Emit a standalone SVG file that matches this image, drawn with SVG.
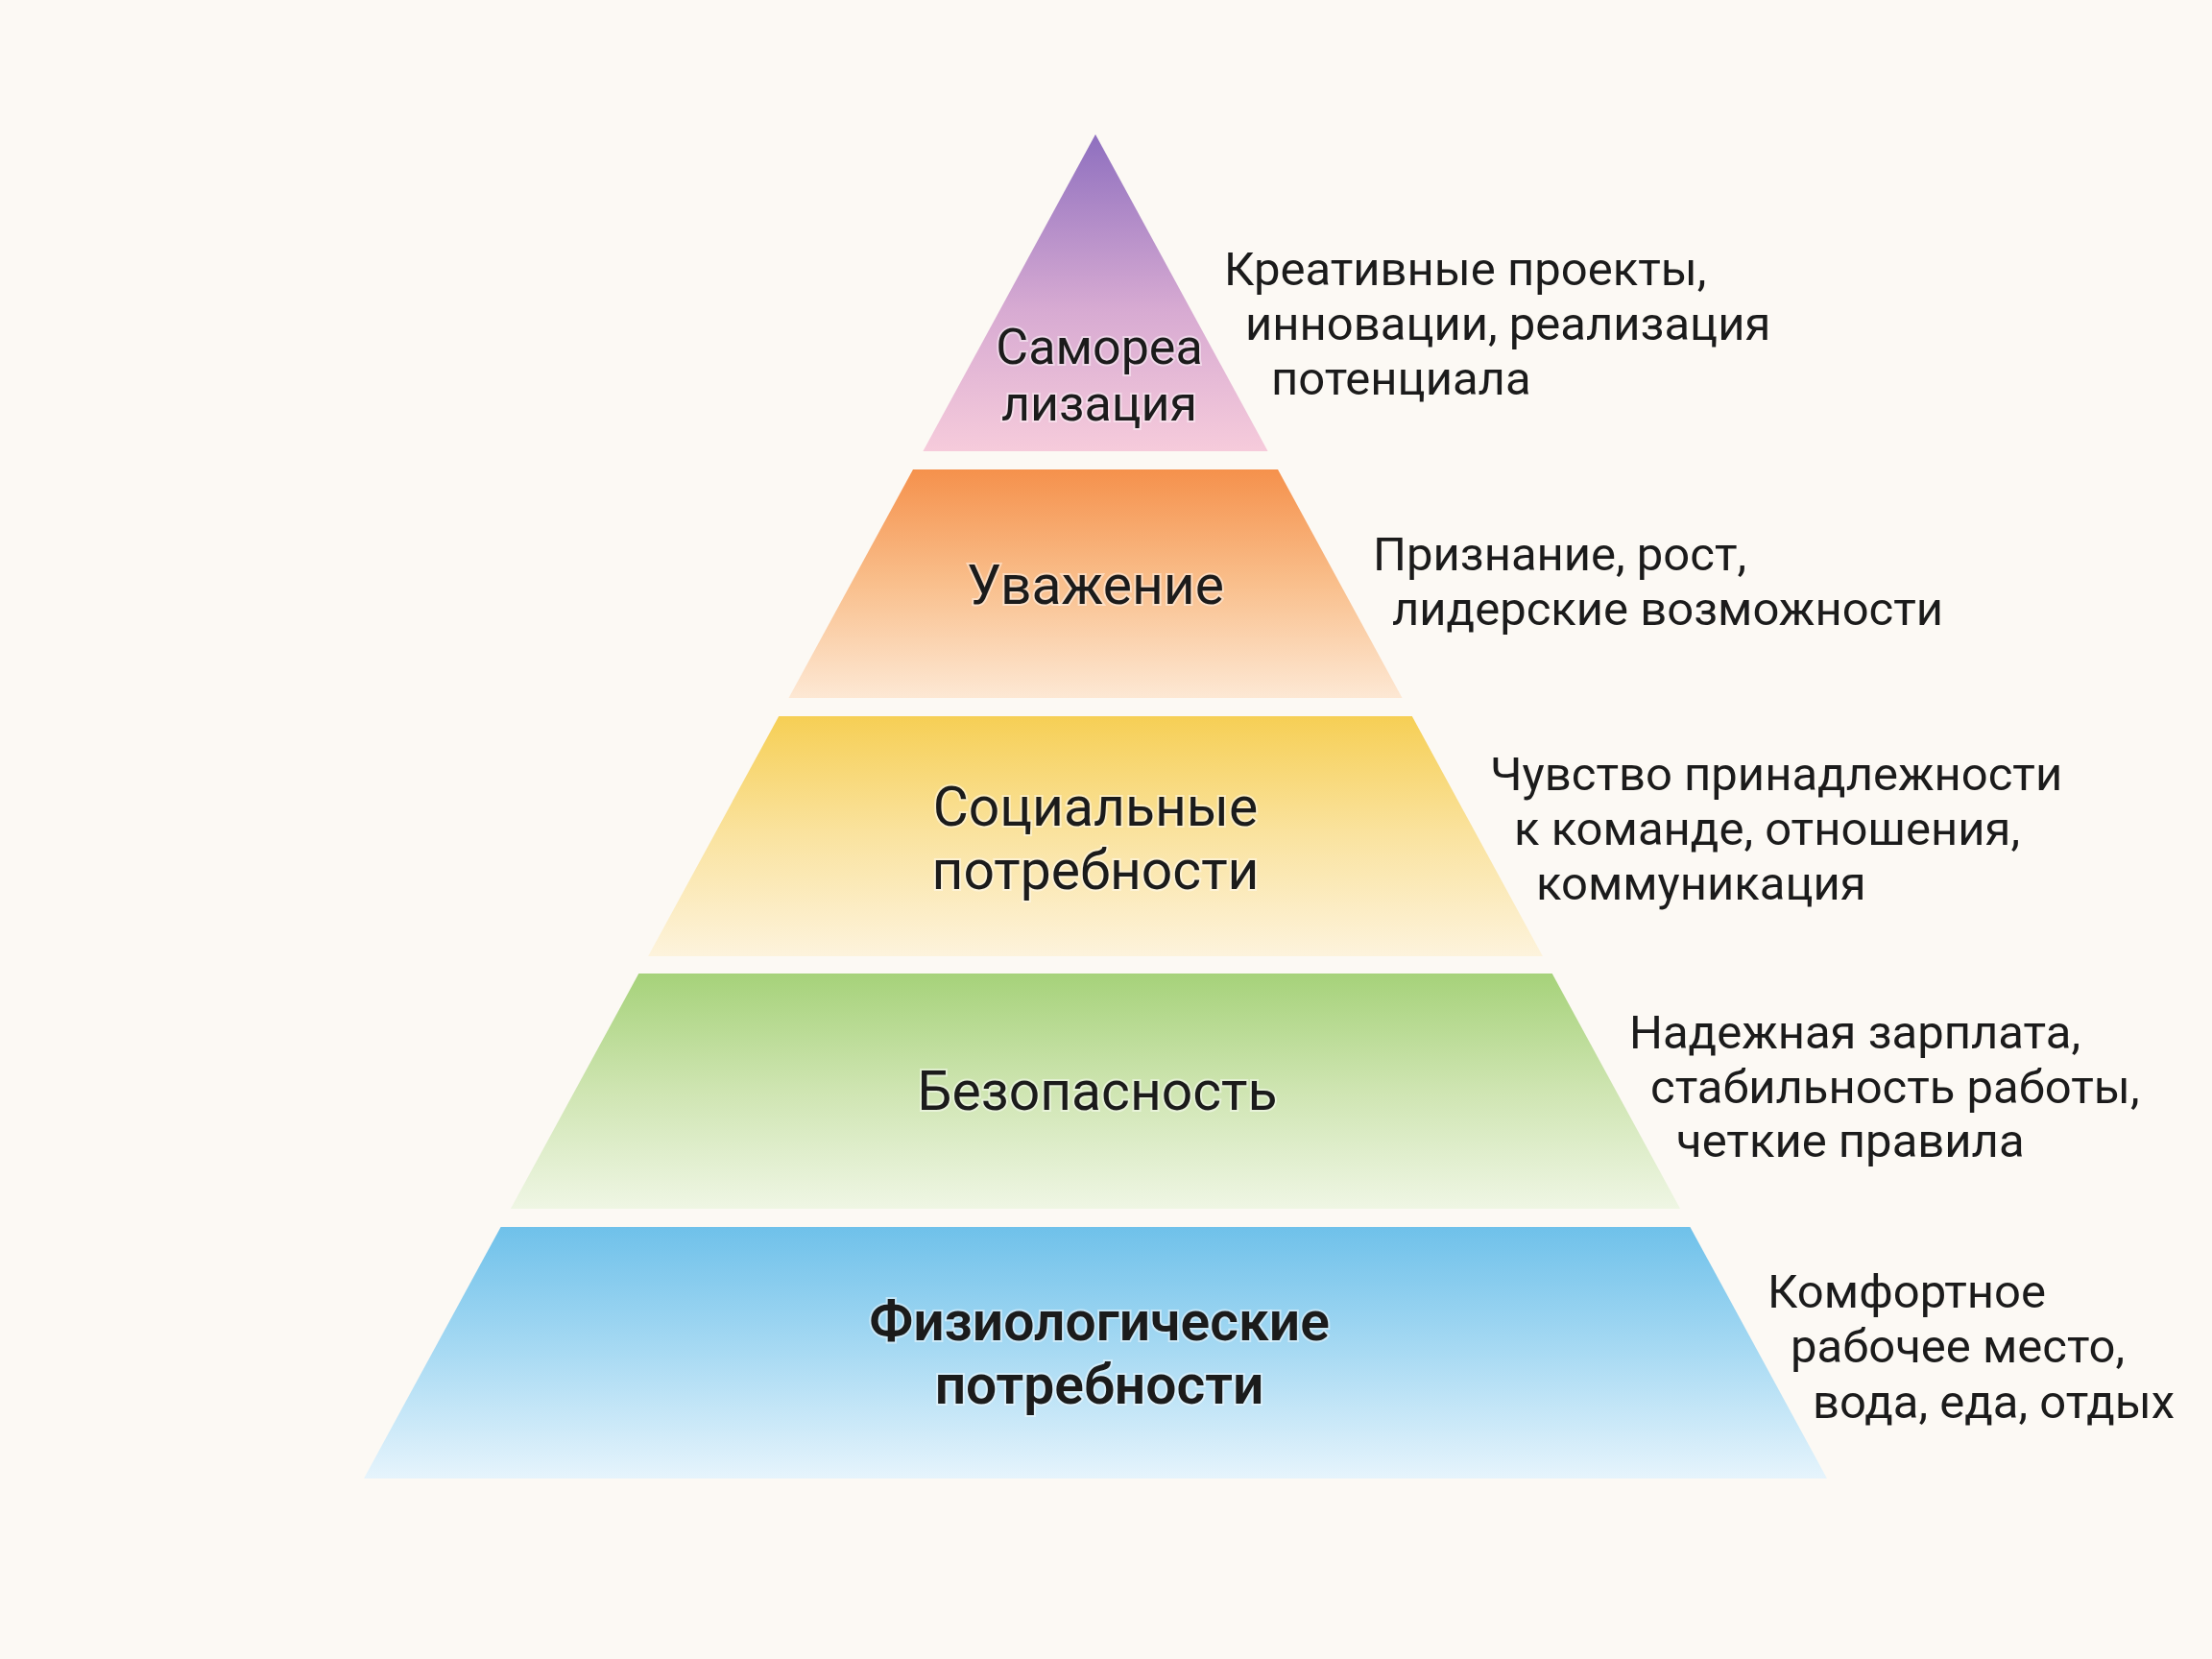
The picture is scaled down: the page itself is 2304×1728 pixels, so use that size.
<svg xmlns="http://www.w3.org/2000/svg" width="2304" height="1728" viewBox="0 0 2304 1728">
<defs>
<linearGradient id="g1" x1="0" y1="0" x2="0" y2="1"><stop offset="0" stop-color="#8e6fbf"/><stop offset="0.55" stop-color="#d7aad2"/><stop offset="1" stop-color="#f6cbdb"/></linearGradient>
<linearGradient id="g2" x1="0" y1="0" x2="0" y2="1"><stop offset="0" stop-color="#f5914c"/><stop offset="0.5" stop-color="#f9bf8c"/><stop offset="1" stop-color="#fde8d4"/></linearGradient>
<linearGradient id="g3" x1="0" y1="0" x2="0" y2="1"><stop offset="0" stop-color="#f6cf55"/><stop offset="0.5" stop-color="#fae3a0"/><stop offset="1" stop-color="#fdf3dc"/></linearGradient>
<linearGradient id="g4" x1="0" y1="0" x2="0" y2="1"><stop offset="0" stop-color="#a6d27a"/><stop offset="0.5" stop-color="#cfe5b2"/><stop offset="1" stop-color="#eff6e4"/></linearGradient>
<linearGradient id="g5" x1="0" y1="0" x2="0" y2="1"><stop offset="0" stop-color="#6fc1ea"/><stop offset="0.5" stop-color="#a8daf3"/><stop offset="1" stop-color="#e6f4fc"/></linearGradient>
</defs>
<style>
.lbl{font-family:Roboto,"Liberation Sans",sans-serif;font-size:57px;fill:#1b1b1b;text-anchor:middle;stroke:#ffffff;stroke-opacity:0.45;stroke-width:4px;paint-order:stroke}
.desc{font-family:Roboto,"Liberation Sans",sans-serif;font-size:49px;fill:#1b1b1b}
</style>
<rect width="2304" height="1728" fill="#fcf9f4"/>
<g id="tier1">
<polygon points="1141,140 1320.6,470 961.4,470" fill="url(#g1)"/>
<text class="lbl" x="1145" y="379" style="font-size:52px">Самореа</text>
<text class="lbl" x="1145" y="438" style="font-size:52px">лизация</text>
<text class="desc" x="1275" y="297">Креативные проекты,</text>
<text class="desc" x="1297" y="354">инновации, реализация</text>
<text class="desc" x="1324" y="411">потенциала</text>
</g>
<g id="tier2">
<polygon points="951,489 1331,489 1460.5,727 821.5,727" fill="url(#g2)"/>
<text class="lbl" x="1141" y="629">Уважение</text>
<text class="desc" x="1430" y="594">Признание, рост,</text>
<text class="desc" x="1450" y="651">лидерские возможности</text>
</g>
<g id="tier3">
<polygon points="811.2,746 1470.8,746 1606.9,996 675.1,996" fill="url(#g3)"/>
<text class="lbl" x="1141" y="860">Социальные</text>
<text class="lbl" x="1141" y="926">потребности</text>
<text class="desc" x="1552" y="823">Чувство принадлежности</text>
<text class="desc" x="1577" y="880">к команде, отношения,</text>
<text class="desc" x="1600" y="937">коммуникация</text>
</g>
<g id="tier4">
<polygon points="665.3,1014 1616.7,1014 1750.1,1259 531.9,1259" fill="url(#g4)"/>
<text class="lbl" x="1143" y="1156">Безопасность</text>
<text class="desc" x="1697" y="1092">Надежная зарплата,</text>
<text class="desc" x="1719" y="1149">стабильность работы,</text>
<text class="desc" x="1746" y="1205">четкие правила</text>
</g>
<g id="tier5">
<polygon points="521.6,1278 1760.4,1278 1903,1540 379,1540" fill="url(#g5)"/>
<text class="lbl" x="1145" y="1396" style="font-weight:600">Физиологические</text>
<text class="lbl" x="1145" y="1462" style="font-weight:600">потребности</text>
<text class="desc" x="1841" y="1362">Комфортное</text>
<text class="desc" x="1865" y="1419">рабочее место,</text>
<text class="desc" x="1888" y="1477">вода, еда, отдых</text>
</g>
<g id="connectors"/>
</svg>
